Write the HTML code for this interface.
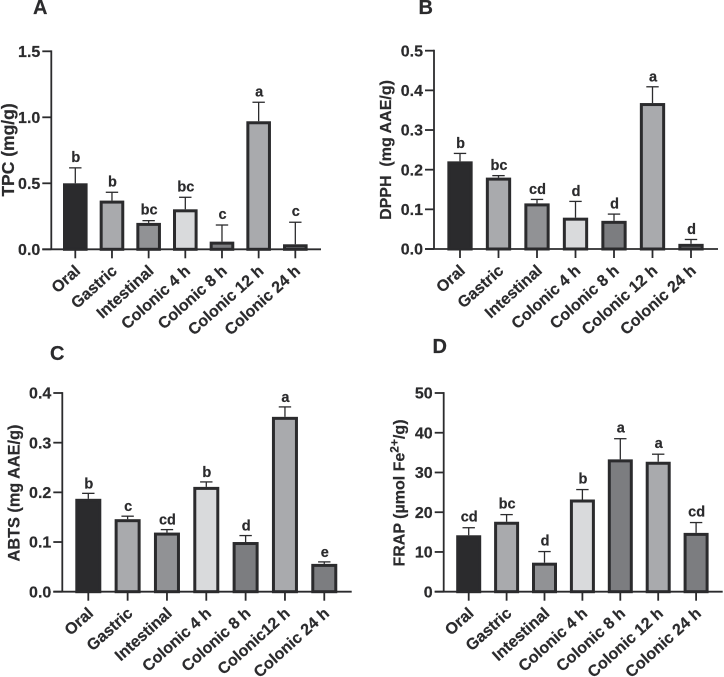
<!DOCTYPE html>
<html lang="en">
<head>
<meta charset="utf-8">
<title>Antioxidant activity during digestion</title>
<style>
html,body{margin:0;padding:0;background:#fff;width:724px;height:677px;overflow:hidden}
svg{display:block;font-family:"Liberation Sans",Arial,sans-serif;font-weight:bold}
text{fill:#2b2b2d;stroke:#2b2b2d;stroke-width:0.2}
</style>
</head>
<body>
<svg id="figure" xmlns="http://www.w3.org/2000/svg" width="724" height="677" viewBox="0 0 724 677">
  <text x="33" y="14" font-size="20">A</text>
  <text x="418.5" y="14" font-size="20">B</text>
  <text x="50" y="360" font-size="20">C</text>
  <text x="432.5" y="353" font-size="20">D</text>

  <text transform="translate(14 150) rotate(-90)" text-anchor="middle" font-size="17.5">TPC (mg/g)</text>
  <text transform="translate(391 150) rotate(-90)" text-anchor="middle" font-size="16" xml:space="preserve">DPPH  (mg AAE/g)</text>
  <text transform="translate(19.5 493) rotate(-90)" text-anchor="middle" font-size="16.3">ABTS (mg AAE/g)</text>
  <text transform="translate(404.5 493) rotate(-90)" text-anchor="middle" font-size="16">FRAP (µmol Fe<tspan dy="-6" font-size="12">2+</tspan><tspan dy="6">/g)</tspan></text>
</svg>
<script>
const aCategories = ['Oral','Gastric','Intestinal','Colonic 4 h','Colonic 8 h','Colonic 12 h','Colonic 24 h'];
const aValues = [0.5,0.369,0.2,0.303,0.058,0.97,0.038];
const aErrorTops = [0.617,0.432,0.217,0.394,0.184,1.114,0.205];
const aLetters = ['b','b','bc','bc','c','a','c'];
const aTicks = [0,0.5,1,1.5];
const aTickLabels = ['0.0','0.5','1.0','1.5'];

const bCategories = ['Oral','Gastric','Intestinal','Colonic 4 h','Colonic 8 h','Colonic 12 h','Colonic 24 h'];
const bValues = [0.221,0.18,0.115,0.079,0.071,0.368,0.013];
const bErrorTops = [0.241,0.185,0.125,0.12,0.088,0.409,0.024];
const bLetters = ['b','bc','cd','d','d','a','d'];
const bTicks = [0,0.1,0.2,0.3,0.4,0.5];
const bTickLabels = ['0.0','0.1','0.2','0.3','0.4','0.5'];

const cCategories = ['Oral','Gastric','Intestinal','Colonic 4 h','Colonic 8 h','Colonic12 h','Colonic 24 h'];
const cValues = [0.187,0.146,0.119,0.211,0.1,0.352,0.056];
const cErrorTops = [0.198,0.152,0.125,0.221,0.113,0.372,0.06];
const cLetters = ['b','c','cd','b','d','a','e'];
const cTicks = [0,0.1,0.2,0.3,0.4];
const cTickLabels = ['0.0','0.1','0.2','0.3','0.4'];

const dCategories = ['Oral','Gastric','Intestinal','Colonic 4 h','Colonic 8 h','Colonic 12 h','Colonic 24 h'];
const dValues = [14.2,17.6,7.3,23.2,33.3,32.7,14.8];
const dErrorTops = [16.1,19.4,10.1,25.7,38.5,34.6,17.4];
const dLetters = ['cd','bc','d','b','a','a','cd'];
const dTicks = [0,10,20,30,40,50];
const dTickLabels = ['0','10','20','30','40','50'];

const barFills = ['#2b2b2d','#a9aaad','#919295','#d9dadc','#7c7d80','#a9aaad','#7c7d80'];
const ink = '#2b2b2d';
const svgNS = 'http://www.w3.org/2000/svg';
const figure = document.getElementById('figure');

function make(tag, attrs, parent) {
  const el = document.createElementNS(svgNS, tag);
  for (const k in attrs) el.setAttribute(k, attrs[k]);
  parent.appendChild(el);
  return el;
}

function drawPanel(id, geo, categories, values, errorTops, letters, ticks, tickLabels) {
  const yScale = v => geo.y0 - (v / geo.yMax) * (geo.y0 - geo.yTop);
  const xScale = i => geo.first + i * geo.step;
  const group = make('g', {}, figure);
  
  
  const sw = 3;

  categories.forEach((cat, i) => {
    const cx = xScale(i);
    const top = yScale(values[i]);
    const errTop = yScale(errorTops[i]);

    const stem = make('line', {x1: cx, x2: cx, y1: top, y2: errTop, stroke: ink, 'stroke-width': 1.3}, group);
    
    

    const cap = make('line', {x1: cx - 6.2, x2: cx + 6.2, y1: errTop, y2: errTop, stroke: ink, 'stroke-width': 1.3}, group);
    
    

    const barH = Math.max(0, geo.y0 - top - sw / 2);
    const bar = make('rect', {x: cx - geo.barW / 2 + sw / 2, y: top + sw / 2, width: geo.barW - sw, height: barH, fill: barFills[i], stroke: ink, 'stroke-width': sw}, group);
    
    

    const letter = make('text', {x: cx + 0.5, y: errTop - geo.letterGap, 'text-anchor': 'middle', 'font-size': 14.5}, group);
    letter.textContent = letters[i];
    
    

    const tick = make('line', {x1: cx, x2: cx, y1: geo.y0, y2: geo.y0 + 9, stroke: ink, 'stroke-width': 1.8}, group);
    
    

    const label = make('text', {transform: 'translate(' + (cx + 6) + ' ' + (geo.y0 + 23) + ') rotate(-42)', 'text-anchor': 'end', 'font-size': 16}, group);
    label.textContent = cat;
    
    
  });

  const yAxis = make('line', {x1: geo.axisX, x2: geo.axisX, y1: yScale(geo.yMax) - 0.9, y2: geo.y0, stroke: ink, 'stroke-width': 1.8}, group);
  
  

  const xAxis = make('line', {x1: geo.axisX - 9, x2: geo.axisEnd, y1: geo.y0, y2: geo.y0, stroke: ink, 'stroke-width': 1.8}, group);
  
  

  ticks.forEach((t, i) => {
    const y = yScale(t);
    const tick = make('line', {x1: geo.axisX - 9, x2: geo.axisX, y1: y, y2: y, stroke: ink, 'stroke-width': 1.8}, group);
    
    

    const label = make('text', {x: geo.axisX - 11, y: y + 5.7, 'text-anchor': 'end', 'font-size': 16}, group);
    label.textContent = tickLabels[i];
    
    
  });
}

drawPanel('a', {axisX: 51.3, axisEnd: 321, y0: 249.3, yTop: 51.3, yMax: 1.5, first: 75.3, step: 36.67, barW: 24.6, letterGap: 6}, aCategories, aValues, aErrorTops, aLetters, aTicks, aTickLabels);
drawPanel('b', {axisX: 434, axisEnd: 718, y0: 249, yTop: 50.7, yMax: 0.5, first: 460, step: 38.5, barW: 25.3, letterGap: 5.5}, bCategories, bValues, bErrorTops, bLetters, bTicks, bTickLabels);
drawPanel('c', {axisX: 62.3, axisEnd: 351.7, y0: 591.7, yTop: 393, yMax: 0.4, first: 88.3, step: 39.33, barW: 26, letterGap: 5}, cCategories, cValues, cErrorTops, cLetters, cTicks, cTickLabels);
drawPanel('d', {axisX: 443.7, axisEnd: 722.7, y0: 591.7, yTop: 393, yMax: 50, first: 468.7, step: 37.9, barW: 25, letterGap: 6}, dCategories, dValues, dErrorTops, dLetters, dTicks, dTickLabels);
</script>
</body>
</html>
